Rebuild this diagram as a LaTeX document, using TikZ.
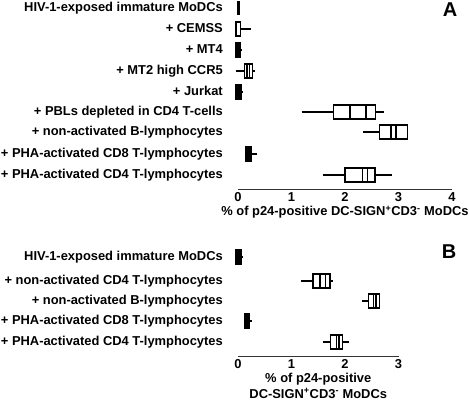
\documentclass[tikz,border=0pt]{standalone}
\usepackage{fontspec}
\setmainfont{Liberation Sans}
\usetikzlibrary{positioning}

\begin{document}
\begin{tikzpicture}[x=1pt,y=-1pt,
    lbl/.style={anchor=east,inner sep=0pt,font=\bfseries\fontsize{12.9}{14}\selectfont,
                text height=9.3pt,text depth=2.7pt},
    tck/.style={anchor=north,inner sep=0pt,font=\bfseries\fontsize{12.9}{14}\selectfont},
    ttl/.style={anchor=north,inner sep=0pt,align=center,
                font=\bfseries\fontsize{12.9}{15.5}\selectfont},
    panel/.style={inner sep=0pt,font=\bfseries\fontsize{20}{22}\selectfont},
    bx/.style={draw=black,line width=1.4pt,fill=white},
    dbx/.style={draw=black,line width=1.4pt,fill=black},
    wh/.style={black,line width=1.4pt}]
\useasboundingbox (0,0) rectangle (470,400);

% ---------------- panel A ----------------
\node[panel] (pA) at (450,10) {A};
\node[lbl] (a1) at (223,8)   {HIV-1-exposed immature MoDCs};
\node[lbl] (a2) at (223,29)  {+ CEMSS};
\node[lbl] (a3) at (223,50)  {+ MT4};
\node[lbl] (a4) at (223,71)  {+ MT2 high CCR5};
\node[lbl] (a5) at (223,92)  {+ Jurkat};
\node[lbl] (a6) at (223,112) {+ PBLs depleted in CD4 T-cells};
\node[lbl] (a7) at (223,132) {+ non-activated B-lymphocytes};
\node[lbl] (a8) at (223,154) {+ PHA-activated CD8 T-lymphocytes};
\node[lbl] (a9) at (223,175) {+ PHA-activated CD4 T-lymphocytes};

\begin{scope}[shift={(238,0)},x=53.5pt]
    % axis
    \coordinate (a0) at (0,189);
    \coordinate (aend) at (4,189);
    \draw[black!80,line width=1pt] (a0) -- (aend);
    \node[tck] (ta0) at (0,192) {0};
    \node[tck] (ta1) at (1,192) {1};
    \node[tck] (ta2) at (2,192) {2};
    \node[tck] (ta3) at (3,192) {3};
    \node[tck] (ta4) at (4,192) {4};
    \node[ttl] (tta) at (2,206) {\% of p24-positive DC-SIGN\textsuperscript{+}CD3\textsuperscript{-} MoDCs};
    % boxes
    \draw[dbx] (0,1.5) rectangle (0.02,14.5);                  % a1
    \draw[wh] (0.05,29) -- (0.25,29);                          % a2
    \draw[bx] (-0.04,22) rectangle (0.05,36);
    \draw[wh] (0.04,50) -- (0.07,50);                          % a3
    \draw[dbx] (-0.05,43) rectangle (0.04,57);
    \draw[wh] (-0.04,71) -- (0.32,71);                         % a4
    \draw[bx] (0.12,64) rectangle (0.27,78);
    \draw[wh] (0.17,64) -- (0.17,78) (0.21,64) -- (0.21,78);
    \draw[wh] (0.06,92) -- (0.1,92);                           % a5
    \draw[dbx] (-0.05,85) rectangle (0.06,99);
    \draw[wh] (1.19,112) -- (2.73,112);                        % a6
    \draw[bx] (1.78,105) rectangle (2.57,119);
    \draw[wh] (2.09,105) -- (2.09,119) (2.39,105) -- (2.39,119);
    \draw[wh] (2.33,132) -- (2.65,132);                        % a7
    \draw[bx] (2.65,125) rectangle (3.17,139);
    \draw[wh] (2.86,125) -- (2.86,139) (2.95,125) -- (2.95,139);
    \draw[wh] (0.2,154) -- (0.36,154);                         % a8
    \draw[dbx] (0.14,147) rectangle (0.25,161);
    \draw[wh] (1.58,175) -- (2.87,175);                        % a9
    \draw[bx] (2.0,168) rectangle (2.56,182);
    \draw[wh] (2.33,168) -- (2.33,182) (2.42,168) -- (2.42,182);
\end{scope}

% ---------------- panel B ----------------
\node[panel] (pB) at (449,252) {B};
\node[lbl] (b1) at (223,257) {HIV-1-exposed immature MoDCs};
\node[lbl] (b2) at (223,281) {+ non-activated CD4 T-lymphocytes};
\node[lbl] (b3) at (223,301) {+ non-activated B-lymphocytes};
\node[lbl] (b4) at (223,321) {+ PHA-activated CD8 T-lymphocytes};
\node[lbl] (b5) at (223,342) {+ PHA-activated CD4 T-lymphocytes};

\begin{scope}[shift={(238,0)},x=53.5pt]
    % axis
    \coordinate (b0) at (0,356);
    \coordinate (bend) at (3,356);
    \draw[black!80,line width=1pt] (b0) -- (bend);
    \node[tck] (tb0) at (0,359) {0};
    \node[tck] (tb1) at (1,359) {1};
    \node[tck] (tb2) at (2,359) {2};
    \node[tck] (tb3) at (3,359) {3};
    \node[ttl] (ttb) at (1.5,373) {\% of p24-positive\\DC-SIGN\textsuperscript{+}CD3\textsuperscript{-} MoDCs};
    % boxes
    \draw[wh] (0.05,257) -- (0.1,257);                         % b1
    \draw[dbx] (-0.05,250) rectangle (0.06,264);
    \draw[wh] (1.18,281) -- (1.78,281);                        % b2
    \draw[bx] (1.40,274) rectangle (1.72,288);
    \draw[wh] (1.53,274) -- (1.53,288) (1.63,274) -- (1.63,288);
    \draw[wh] (2.32,301) -- (2.44,301);                        % b3
    \draw[bx] (2.44,294) rectangle (2.65,308);
    \draw[wh] (2.53,294) -- (2.53,308) (2.58,294) -- (2.58,308);
    \draw[wh] (0.2,321) -- (0.26,321);                         % b4
    \draw[dbx] (0.12,314) rectangle (0.21,328);
    \draw[wh] (1.58,342) -- (2.07,342);                        % b5
    \draw[bx] (1.73,335) rectangle (1.95,349);
    \draw[wh] (1.84,335) -- (1.84,349) (1.89,335) -- (1.89,349);
\end{scope}
\end{tikzpicture}
\end{document}
